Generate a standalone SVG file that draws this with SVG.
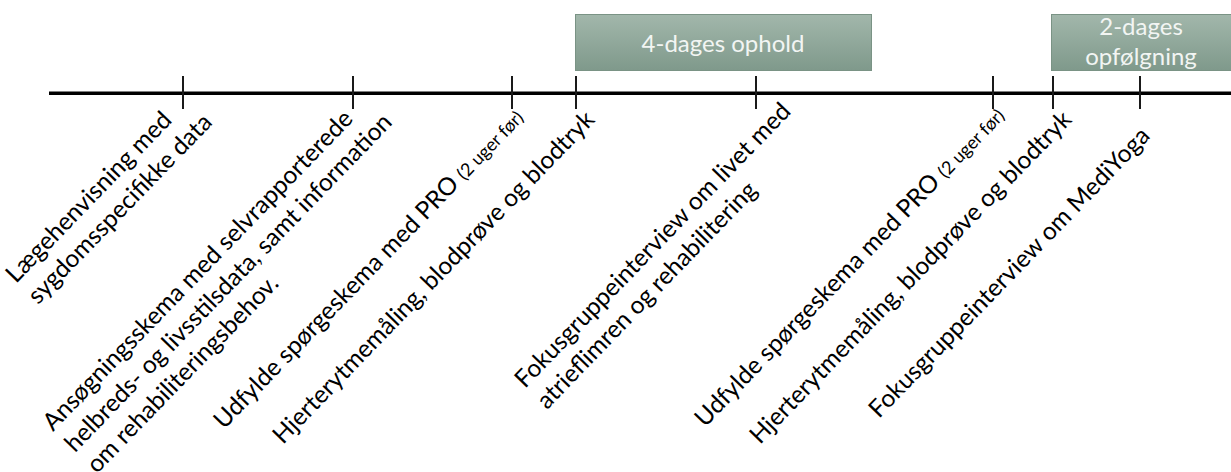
<svg xmlns="http://www.w3.org/2000/svg" width="1231" height="472" viewBox="0 0 1231 472">
<defs>
<linearGradient id="boxg" x1="0" y1="0" x2="0" y2="1">
<stop offset="0" stop-color="#a2b7ab"/>
<stop offset="1" stop-color="#7f998b"/>
</linearGradient>
</defs>
<style>
.axis{stroke:#000;stroke-width:3.5;fill:none}
.tick{stroke:#1a1a1a;stroke-width:2;fill:none}
.box{fill:url(#boxg);stroke:#7a9385;stroke-width:1}
.btxt{font-family:Lato,"Liberation Sans",sans-serif;font-size:24px;fill:#f2f5f3;text-anchor:middle}
.lbl{font-family:Lato,"Liberation Sans",sans-serif;font-size:24.5px;fill:#000}
.sm{font-size:18px}
</style>
<rect width="1231" height="472" fill="#fff"/>
<g id="connectors">
<line class="axis" x1="49" y1="93.3" x2="1231" y2="93.3"/>
<line class="tick" x1="183" y1="76" x2="183" y2="109"/>
<line class="tick" x1="353" y1="76" x2="353" y2="109"/>
<line class="tick" x1="512" y1="76" x2="512" y2="109"/>
<line class="tick" x1="576" y1="76" x2="576" y2="109"/>
<line class="tick" x1="756" y1="76" x2="756" y2="109"/>
<line class="tick" x1="993" y1="76" x2="993" y2="109"/>
<line class="tick" x1="1053" y1="76" x2="1053" y2="109"/>
<line class="tick" x1="1140" y1="76" x2="1140" y2="109"/>
</g>
<g id="box-4dages">
<rect class="box" x="575.5" y="14.5" width="296" height="56"/>
<text class="btxt" x="723" y="52">4-dages ophold</text>
</g>
<g id="box-2dages">
<rect class="box" x="1051.5" y="14.5" width="181" height="56"/>
<text class="btxt" x="1141" y="35">2-dages</text>
<text class="btxt" x="1141" y="65">opfølgning</text>
</g>
<g id="label-1">
<text class="lbl" transform="translate(16,284) rotate(-46)"><tspan x="0" y="0">Lægehenvisning med</tspan><tspan x="0" y="30.5">sygdomsspecifikke data</tspan></text>
</g>
<g id="label-2">
<text class="lbl" transform="translate(53,432) rotate(-46)"><tspan x="0" y="0">Ansøgningsskema med selvrapporterede</tspan><tspan x="0" y="30.5">helbreds- og livsstilsdata, samt information</tspan><tspan x="0" y="61">om rehabiliteringsbehov.</tspan></text>
</g>
<g id="label-3">
<text class="lbl" transform="translate(224,430) rotate(-46)">Udfylde spørgeskema med PRO <tspan class="sm">(2 uger før)</tspan></text>
</g>
<g id="label-4">
<text class="lbl" transform="translate(283,445) rotate(-46)">Hjerterytmemåling, blodprøve og blodtryk</text>
</g>
<g id="label-5">
<text class="lbl" transform="translate(525,389) rotate(-46)"><tspan x="0" y="0">Fokusgruppeinterview om livet med</tspan><tspan x="0" y="30.5">atrieflimren og rehabilitering</tspan></text>
</g>
<g id="label-6">
<text class="lbl" transform="translate(705,428) rotate(-46)">Udfylde spørgeskema med PRO <tspan class="sm">(2 uger før)</tspan></text>
</g>
<g id="label-7">
<text class="lbl" transform="translate(760,445) rotate(-46)">Hjerterytmemåling, blodprøve og blodtryk</text>
</g>
<g id="label-8">
<text class="lbl" transform="translate(879,419) rotate(-46)">Fokusgruppeinterview om MediYoga</text>
</g>
</svg>
